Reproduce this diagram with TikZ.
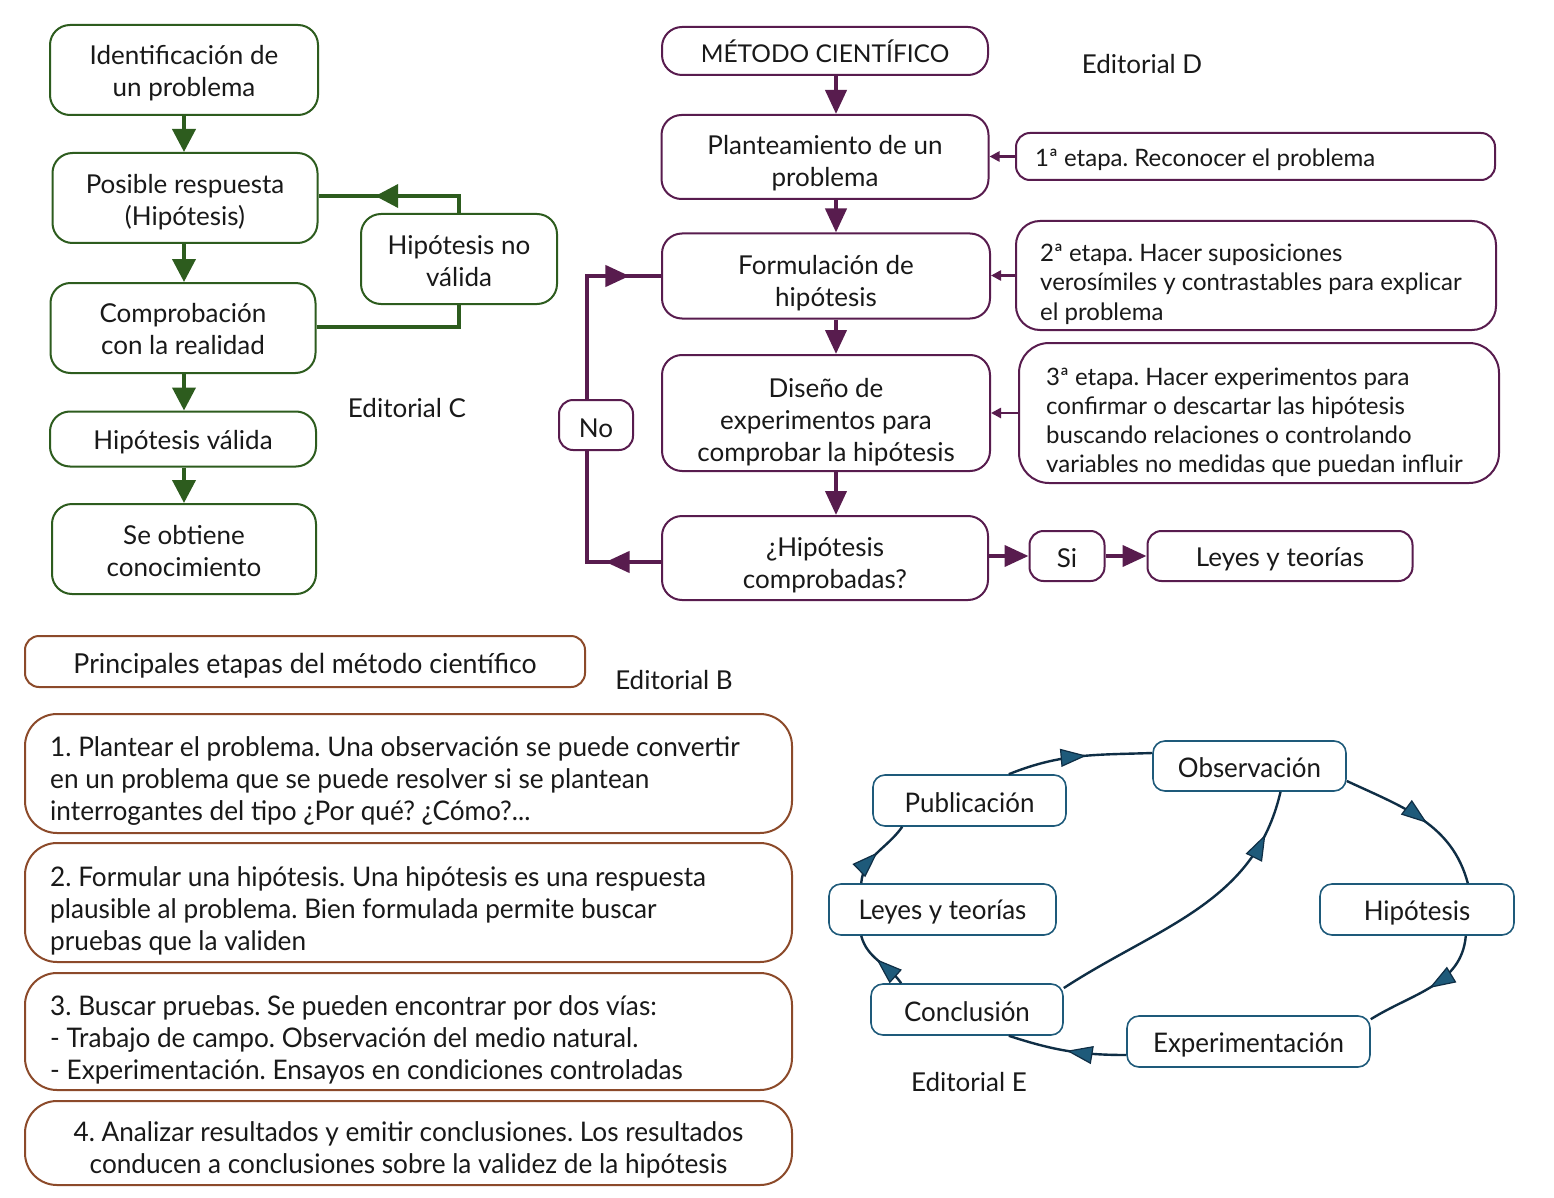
\documentclass[tikz,border=0pt]{standalone}
\usepackage{fontspec}
\setmainfont{Lato}
\newfontfamily\narrowfont[FakeStretch=0.97]{Lato}
\newfontfamily\titlefont[FakeStretch=0.97]{Lato}
\newfontfamily\eefont[FakeStretch=0.96]{Lato}
\usetikzlibrary{arrows.meta,decorations.markings}
\definecolor{gC}{RGB}{45,92,30}
\definecolor{pD}{RGB}{88,28,78}
\definecolor{bB}{RGB}{140,74,42}
\definecolor{tE}{RGB}{30,90,122}
\definecolor{tEd}{RGB}{15,46,69}
\definecolor{txt}{RGB}{25,25,25}
\tikzset{
  frame/.style={inner sep=0pt},
  cbox/.style={frame,draw=gC,line width=2pt,rounded corners=20pt},
  dbox/.style={frame,draw=pD,line width=2pt,rounded corners=20pt},
  bbox/.style={frame,draw=bB,line width=2pt,rounded corners=32pt},
  xbox/.style={frame,draw=tE,line width=1.6pt,rounded corners=12pt},
  ttx/.style={text=txt,align=center,inner sep=0pt,font=\fontsize{26}{32}\selectfont},
  etx/.style={text=txt,align=left,anchor=west,inner sep=0pt,font=\fontsize{24}{29.5}\selectfont},
  btx/.style={text=txt,align=left,anchor=west,inner sep=0pt,font=\narrowfont\fontsize{27}{32}\selectfont},
  bctx/.style={text=txt,align=center,inner sep=0pt,font=\narrowfont\fontsize{27}{32}\selectfont},
  xtx/.style={text=txt,align=center,inner sep=0pt,font=\eefont\fontsize{27}{32}\selectfont},
  label/.style={text=txt,inner sep=0pt,font=\fontsize{26}{30}\selectfont},
  carr/.style={draw=gC,line width=4pt,-{Triangle[length=23pt,width=23pt]}},
  cline/.style={draw=gC,line width=4pt},
  darr/.style={draw=pD,line width=4pt,-{Triangle[length=24pt,width=21pt]}},
  dline/.style={draw=pD,line width=4pt},
  sarr/.style={draw=pD,line width=2.5pt,-{Triangle[length=10pt,width=10pt]}},
  midarrow/.style={postaction={decorate,decoration={markings,mark=at position #1 with {\arrow{Triangle[length=23pt,width=23pt]}}}}},
  dmid/.style={postaction={decorate,decoration={markings,mark=at position #1 with {\arrow{Triangle[length=24pt,width=21pt]}}}}},
  emid/.style={draw=tEd,line width=2.4pt,postaction={decorate,decoration={markings,mark=at position #1 with {\arrow{Triangle[length=26pt,width=18pt,fill=tE,line width=1.2pt]}}}}},
}
\begin{document}
\frenchspacing
\begin{tikzpicture}[x=1pt,y=-1pt]
\useasboundingbox[fill=white] (0,0) rectangle (1554,1198);
% ---------------- Editorial C ----------------
\node[cbox,minimum width=268pt,minimum height=90pt] (c1) at (184,70) {};
\node[ttx] (c1t) at ([yshift=-3pt]c1.center) {Identificación de\\un problema};
\node[cbox,minimum width=265pt,minimum height=90pt] (c2) at (185,198) {};
\node[ttx] (c2t) at ([yshift=-4pt]c2.center) {Posible respuesta\\(Hipótesis)};
\node[cbox,minimum width=265pt,minimum height=90pt] (c3) at (183,328) {};
\node[ttx] (c3t) at ([yshift=-1pt]c3.center) {Comprobación\\con la realidad};
\node[cbox,minimum width=266pt,minimum height=55pt] (c4) at (183,439) {};
\node[ttx] (c4t) at ([yshift=-3pt]c4.center) {Hipótesis válida};
\node[cbox,minimum width=264pt,minimum height=90pt] (c5) at (184,549) {};
\node[ttx] (c5t) at ([yshift=-2pt]c5.center) {Se obtiene\\conocimiento};
\node[cbox,minimum width=196pt,minimum height=90pt] (cn) at (459,259) {};
\node[ttx] (cnt) at ([yshift=-2.5pt]cn.center) {Hipótesis no\\válida};
\node[label] (edc) at (407,408) {Editorial C};
\draw[carr] (c1.south -| 184,0) -- (c2.north -| 184,0);
\draw[carr] (c2.south -| 184,0) -- (c3.north -| 184,0);
\draw[carr] (c3.south -| 184,0) -- (c4.north -| 184,0);
\draw[carr] (c4.south -| 184,0) -- (c5.north -| 184,0);
\draw[cline] (c3.east |- 0,327) -| (cn.south);
\draw[cline,midarrow=0.64] (cn.north) |- (c2.east |- 0,196);
% ---------------- Editorial D ----------------
\node[dbox,minimum width=326pt,minimum height=48pt] (d0) at (825,51) {};
\node[ttx,font=\fontsize{24.5}{30}\selectfont] (d0t) at (d0.center) {MÉTODO CIENTÍFICO};
\node[dbox,minimum width=327pt,minimum height=84pt] (d1) at (825,157) {};
\node[ttx] (d1t) at ([yshift=-6pt]d1.center) {Planteamiento de un\\problema};
\node[dbox,minimum width=328pt,minimum height=85pt] (d2) at (826,276) {};
\node[ttx] (d2t) at ([yshift=-7pt]d2.center) {Formulación de\\hipótesis};
\node[dbox,minimum width=328pt,minimum height=116pt] (d3) at (826,413) {};
\node[ttx] (d3t) at ([yshift=-9pt]d3.center) {Diseño de\\experimentos para\\comprobar la hipótesis};
\node[dbox,minimum width=326pt,minimum height=84pt] (d4) at (825,558) {};
\node[ttx] (d4t) at ([yshift=-7pt]d4.center) {¿Hipótesis\\comprobadas?};
\node[dbox,minimum width=74pt,minimum height=50pt,rounded corners=14pt] (dno) at (596,425) {};
\node[ttx] (dnot) at ([yshift=-3pt]dno.center) {No};
\node[dbox,minimum width=75pt,minimum height=50pt,rounded corners=14pt] (dsi) at (1067,556) {};
\node[ttx] (dsit) at ([yshift=-2pt]dsi.center) {Si};
\node[dbox,minimum width=265pt,minimum height=50pt,rounded corners=14pt] (dley) at (1280,556) {};
\node[ttx] (dleyt) at ([yshift=-3pt]dley.center) {Leyes y teorías};
\node[dbox,minimum width=479pt,minimum height=47pt,rounded corners=14pt] (e1) at (1255.5,156.5) {};
\node[etx] (e1t) at ([xshift=20pt,yshift=-3pt]e1.west) {1ª etapa. Reconocer el problema};
\node[dbox,minimum width=480pt,minimum height=109pt,rounded corners=24pt] (e2) at (1256,275.5) {};
\node[etx] (e2t) at ([xshift=25pt,yshift=-8.5pt]e2.west) {2ª etapa. Hacer suposiciones\\verosímiles y contrastables para explicar\\el problema};
\node[dbox,minimum width=480pt,minimum height=140pt,rounded corners=30pt] (e3) at (1259,413) {};
\node[etx,font=\fontsize{24}{29}\selectfont] (e3t) at ([xshift=28pt,yshift=-9pt]e3.west) {3ª etapa. Hacer experimentos para\\confirmar o descartar las hipótesis\\buscando relaciones o controlando\\variables no medidas que puedan influir};
\node[label] (edd) at (1142,64) {Editorial D};
\draw[darr] (d0.south -| 836,0) -- (d1.north -| 836,0);
\draw[darr] (d1.south -| 836,0) -- (d2.north -| 836,0);
\draw[darr] (d2.south -| 836,0) -- (d3.north -| 836,0);
\draw[darr] (d3.south -| 836,0) -- (d4.north -| 836,0);
\draw[sarr] (e1.west) -- (d1.east |- e1.west);
\draw[sarr] (e2.west) -- (d2.east |- e2.west);
\draw[sarr] (e3.west) -- (d3.east |- e3.west);
\draw[darr] (d4.east |- 0,556) -- (dsi.west);
\draw[darr] (dsi.east) -- (dley.west);
\draw[dline,dmid=0.3] (d4.west |- 0,562) -- (587,562) -- (dno.south -| 587,0);
\draw[dline,dmid=0.84] (dno.north -| 587,0) -- (587,276) -- (d2.west);
% ---------------- Editorial B ----------------
\node[bbox,minimum width=560pt,minimum height=51pt,rounded corners=14pt] (b0) at (305,661.5) {};
\node[bctx,font=\titlefont\fontsize{27.5}{32}\selectfont] (b0t) at ([yshift=-4pt]b0.center) {Principales etapas del método científico};
\node[label] (edb) at (674,680) {Editorial B};
\node[bbox,minimum width=767pt,minimum height=119pt] (b1) at (408.5,773.5) {};
\node[btx] (b1t) at ([xshift=26pt,yshift=-8pt]b1.west) {1. Plantear el problema. Una observación se puede convertir\\en un problema que se puede resolver si se plantean\\interrogantes del tipo ¿Por qué? ¿Cómo?...};
\node[bbox,minimum width=767pt,minimum height=119pt] (b2) at (408.5,902.5) {};
\node[btx] (b2t) at ([xshift=26pt,yshift=-8pt]b2.west) {2. Formular una hipótesis. Una hipótesis es una respuesta\\plausible al problema. Bien formulada permite buscar\\pruebas que la validen};
\node[bbox,minimum width=767pt,minimum height=117pt] (b3) at (408.5,1031.5) {};
\node[btx] (b3t) at ([xshift=26pt,yshift=-8pt]b3.west) {3. Buscar pruebas. Se pueden encontrar por dos vías:\\- Trabajo de campo. Observación del medio natural.\\- Experimentación. Ensayos en condiciones controladas};
\node[bbox,minimum width=767pt,minimum height=84pt] (b4) at (408.5,1143) {};
\node[bctx] (b4t) at ([yshift=-7pt]b4.center) {4. Analizar resultados y emitir conclusiones. Los resultados\\conducen a conclusiones sobre la validez de la hipótesis};
% ---------------- Editorial E ----------------
\node[xbox,minimum width=193pt,minimum height=50pt] (obs) at (1249.5,766) {};
\node[xtx] (obst) at ([yshift=-2pt]obs.center) {Observación};
\node[xbox,minimum width=193pt,minimum height=51pt] (pub) at (969.5,800.5) {};
\node[xtx] (pubt) at ([yshift=-2pt]pub.center) {Publicación};
\node[xbox,minimum width=227pt,minimum height=51pt] (ley) at (942.5,909.5) {};
\node[xtx] (leyt) at ([yshift=-3pt]ley.center) {Leyes y teorías};
\node[xbox,minimum width=194pt,minimum height=51pt] (hip) at (1417,909.5) {};
\node[xtx] (hipt) at ([yshift=-3pt]hip.center) {Hipótesis};
\node[xbox,minimum width=192pt,minimum height=51pt] (con) at (967,1009.5) {};
\node[xtx] (cont) at ([yshift=-2pt]con.center) {Conclusión};
\node[xbox,minimum width=243pt,minimum height=51pt] (exp) at (1248.5,1041.5) {};
\node[xtx] (expt) at ([yshift=-3pt]exp.center) {Experimentación};
\node[label] (ede) at (969,1082) {Editorial E};
\draw[emid=0.55] ([xshift=-58pt]pub.north east) to[out=22,in=182] (obs.west |- 0,753);
\draw[emid=0.55] (obs.east |- 0,781) to[out=-25,in=105] ([xshift=-47pt]hip.north east);
\draw[emid=0.5] ([xshift=-49pt]hip.south east) to[out=-95,in=32] ([yshift=-4pt]exp.north east);
\draw[emid=0.5] (exp.west |- 0,1055) to[out=180,in=-18] ([xshift=-55pt]con.south east);
\draw[emid=0.55] ([xshift=31pt]con.north west) to[out=125,in=-75] ([xshift=33pt]ley.south west);
\draw[emid=0.5] ([xshift=33pt]ley.north west) to[out=85,in=-125] ([xshift=30pt]pub.south west);
\draw[emid=0.85] (con.east |- 0,988) to[out=33,in=-103] ([xshift=31pt]obs.south);
\end{tikzpicture}
\end{document}
